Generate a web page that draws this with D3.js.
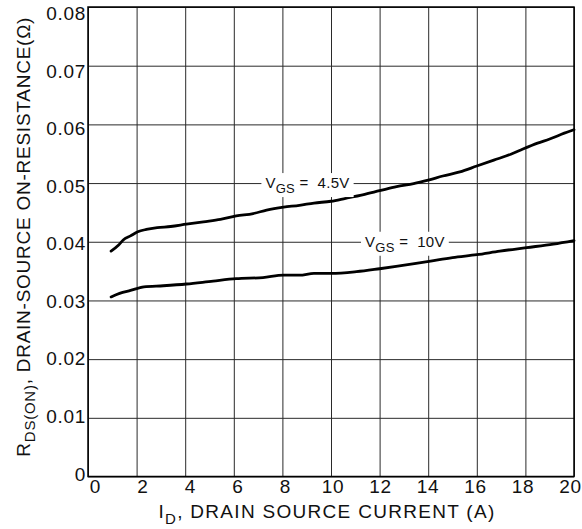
<!DOCTYPE html>
<html>
<head>
<meta charset="utf-8">
<script src="https://cdn.jsdelivr.net/npm/d3@7"></script>
<style>
  html, body { margin: 0; padding: 0; background: #fff; }
  svg { display: block; }
</style>
</head>
<body>
<div id="chart"></div>
<script>
// ---- data ----
const xTicks = [0, 2, 4, 6, 8, 10, 12, 14, 16, 18, 20];
const yTicks = [0, 0.01, 0.02, 0.03, 0.04, 0.05, 0.06, 0.07, 0.08];

// V_GS = 4.5V
const id45 = [0.95, 1.25, 1.45, 1.75, 2.05, 2.4, 2.85, 3.4, 4.05, 4.75, 5.45, 6.1, 6.8, 7.35, 8.05, 8.7, 9.3, 10.0,
  10.6, 11.3, 12.0, 12.7, 13.4, 14.0, 14.6, 15.3, 16.0, 16.7, 17.4, 17.9, 18.5, 19.0, 19.6, 20.0];
const rds45 = [0.0384, 0.0394, 0.0403, 0.0410, 0.0417, 0.0421, 0.0424, 0.0426, 0.0430, 0.0434, 0.0438, 0.0444, 0.0448, 0.0454, 0.0459, 0.0462, 0.0466, 0.0469,
  0.0474, 0.0480, 0.0487, 0.0494, 0.0499, 0.0505, 0.0512, 0.0519, 0.0529, 0.0539, 0.0549, 0.0558, 0.0568, 0.0575, 0.0585, 0.0591];

// V_GS = 10V
const id10 = [0.95, 1.3, 1.75, 2.3, 3.1, 4.05, 5.15, 6.1, 7.2, 8.05, 8.7, 9.3, 10.0, 11.05, 12.0, 13.5, 14.1, 15.0, 16.0, 16.95, 18.05, 19.15, 20.0];
const rds10 = [0.0306, 0.0312, 0.0317, 0.0323, 0.0325, 0.0328, 0.0333, 0.0337, 0.0339, 0.0343, 0.0343, 0.0346, 0.0346, 0.0349, 0.0354, 0.0363, 0.0367, 0.0373, 0.0378, 0.0384, 0.0390, 0.0396, 0.0402];

// curve labels: [main, sub, rest, anchor I, anchor R]
const curveLabels = [
  ['V', 'GS', ' =  4.5V', 7.3, 0.05],
  ['V', 'GS', ' =  10V', 11.4, 0.04]
];

const W = 582, H = 529;
const margin = { top: 7, right: 8, bottom: 52.5, left: 88 };
const innerW = W - margin.left - margin.right;
const innerH = H - margin.top - margin.bottom;
const FONT = "'Liberation Sans', Arial, Helvetica, sans-serif";

const svg = d3.select('#chart').append('svg')
  .attr('width', W).attr('height', H)
  .attr('viewBox', `0 0 ${W} ${H}`);

const g = svg.append('g').attr('transform', `translate(${margin.left},${margin.top})`);

const x = d3.scaleLinear().domain([0, 20]).range([0, innerW]);
const y = d3.scaleLinear().domain([0, 0.08]).range([innerH, 0]);

// the printed tick labels sit on a slightly tighter spacing than the grid
const xLab = d3.scaleLinear().domain([0, 20]).range([7, innerW - 4]);
const yLab = d3.scaleLinear().domain([0, 0.08]).range([innerH - 2.5, 6.5]);

// grid
const gx = g.append('g').attr('transform', `translate(0,${innerH})`)
  .call(d3.axisBottom(x).tickValues(xTicks).tickSize(-innerH).tickFormat(''));
const gy = g.append('g')
  .call(d3.axisLeft(y).tickValues(yTicks).tickSize(-innerW).tickFormat(''));
[gx, gy].forEach(a => {
  a.select('.domain').remove();
  a.selectAll('line').attr('stroke', '#2a2a2a').attr('stroke-width', 1);
});

// frame
g.append('rect')
  .attr('width', innerW).attr('height', innerH)
  .attr('fill', 'none').attr('stroke', '#000').attr('stroke-width', 1.5);

// tick labels
const lx = g.append('g').attr('transform', `translate(0,${innerH})`)
  .call(d3.axisBottom(xLab).tickValues(xTicks).tickSize(0).tickPadding(3).tickFormat(d3.format('d')));
const ly = g.append('g')
  .call(d3.axisLeft(yLab).tickValues(yTicks).tickSize(0).tickPadding(2)
    .tickFormat(d => d === 0 ? '0' : d3.format('.2f')(d)));
[lx, ly].forEach(a => {
  a.select('.domain').remove();
  a.selectAll('text')
    .attr('fill', '#111')
    .style('font-family', FONT)
    .style('font-size', '19px')
    .style('letter-spacing', '0.7px');
});

// curves
const line = d3.line().x(d => x(d[0])).y(d => y(d[1])).curve(d3.curveMonotoneX);
[[id45, rds45], [id10, rds10]].forEach(([ids, rs]) => {
  g.append('path')
    .datum(d3.zip(ids, rs))
    .attr('fill', 'none')
    .attr('stroke', '#000')
    .attr('stroke-width', 2.8)
    .attr('stroke-linejoin', 'round')
    .attr('stroke-linecap', 'round')
    .attr('d', line);
});

// curve labels with white backing
curveLabels.forEach(([main, sub, rest, xi, yr]) => {
  const lg = g.append('g');
  const t = lg.append('text')
    .attr('x', x(xi)).attr('y', y(yr) + 5)
    .attr('fill', '#111')
    .style('font-family', FONT)
    .style('font-size', '15px')
    .style('letter-spacing', '0.3px')
    .style('white-space', 'pre')
    .attr('xml:space', 'preserve');
  t.append('tspan').text(main);
  t.append('tspan').attr('dy', 5).style('font-size', '13px').text(sub);
  t.append('tspan').attr('dy', -5).text(rest);
  const bb = t.node().getBBox();
  lg.insert('rect', 'text')
    .attr('x', bb.x - 4).attr('y', bb.y - 1)
    .attr('width', bb.width + 8).attr('height', bb.height + 2)
    .attr('fill', '#fff');
});

// axis titles
const xt = svg.append('text')
  .attr('x', margin.left + innerW / 2 - 4).attr('y', 518)
  .attr('text-anchor', 'middle')
  .attr('fill', '#111')
  .style('font-family', FONT)
  .style('font-size', '19px')
  .style('letter-spacing', '1.3px');
xt.append('tspan').text('I');
xt.append('tspan').attr('dy', 6).style('font-size', '15px').text('D');
xt.append('tspan').attr('dy', -6).text(', DRAIN SOURCE CURRENT (A)');

const yt = svg.append('text')
  .attr('transform', `translate(30,${margin.top + innerH / 2 - 5}) rotate(-90)`)
  .attr('text-anchor', 'middle')
  .attr('fill', '#111')
  .style('font-family', FONT)
  .style('font-size', '19px')
  .style('letter-spacing', '0.75px');
yt.append('tspan').text('R');
yt.append('tspan').attr('dy', 5).style('font-size', '15px').text('DS(ON)');
yt.append('tspan').attr('dy', -5).text(', DRAIN-SOURCE ON-RESISTANCE(Ω)');
</script>
</body>
</html>
